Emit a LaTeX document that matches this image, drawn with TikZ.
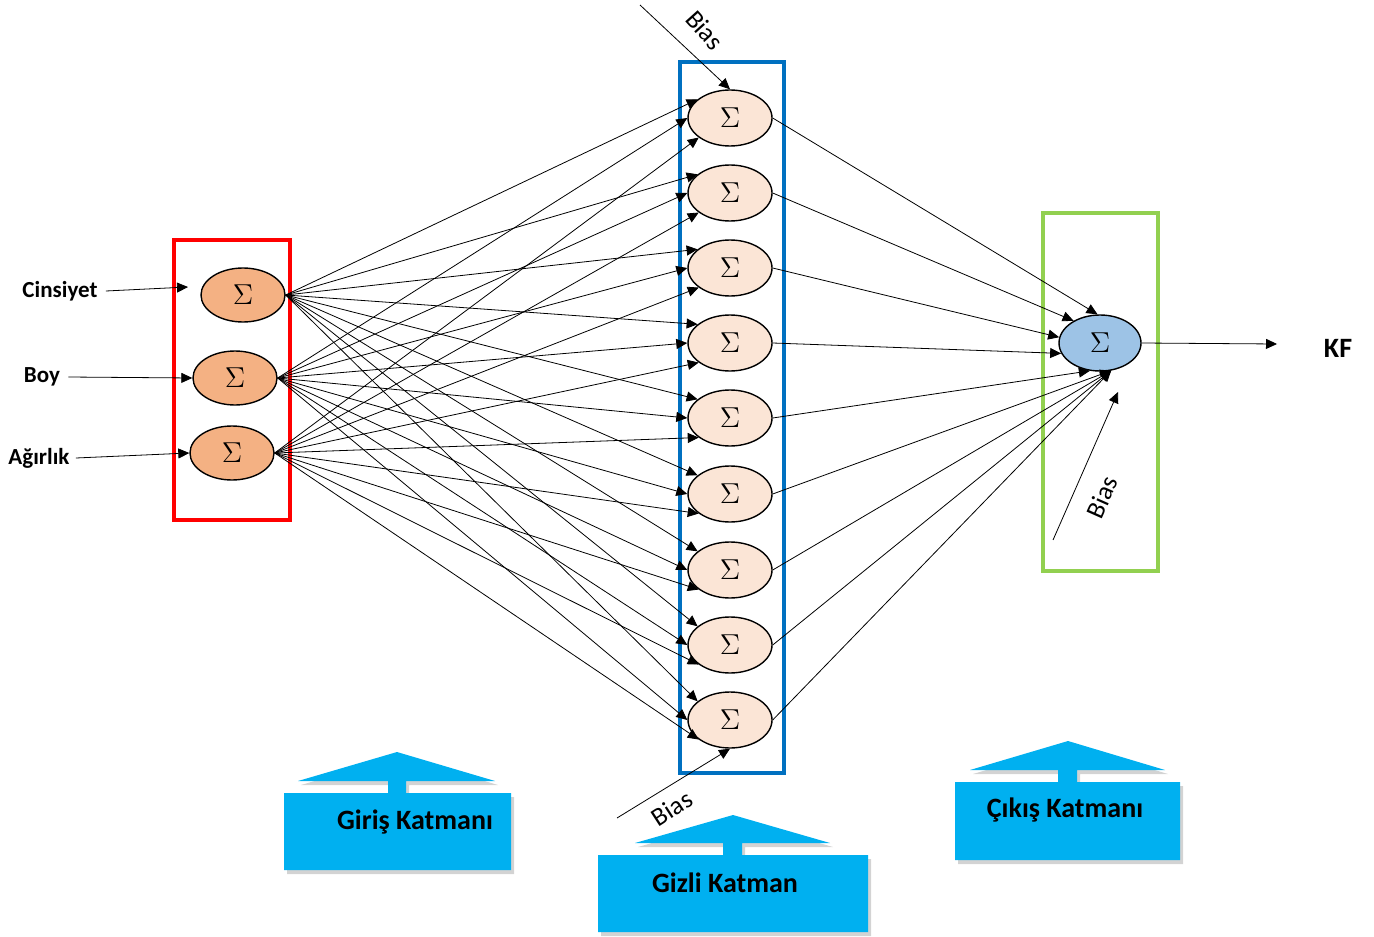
\documentclass[tikz,border=0pt]{standalone}
\usepackage{fontspec}
\setmainfont{Carlito}
\usetikzlibrary{arrows.meta,shapes.geometric,shadows}
\definecolor{inFill}{HTML}{F4B183}
\definecolor{hidFill}{HTML}{FBE5D6}
\definecolor{outFill}{HTML}{9DC3E6}
\definecolor{boxRed}{HTML}{FF0000}
\definecolor{boxBlue}{HTML}{0070C0}
\definecolor{boxGreen}{HTML}{92D050}
\definecolor{callFill}{HTML}{00B0F0}
\begin{document}
\begin{tikzpicture}[x=0.5pt,y=-0.5pt,
  conn/.style={-{Triangle[length=5.5pt,width=5pt]}, line width=0.4pt},
  neuron/.style={ellipse, draw, line width=0.7pt, minimum width=42pt, minimum height=28pt, inner sep=0pt, font=\Large},
  inneuron/.style={neuron, fill=inFill, minimum height=27pt},
  hidneuron/.style={neuron, fill=hidFill},
  outneuron/.style={neuron, fill=outFill, minimum width=41pt},
  layerbox/.style={line width=2pt},
  inlabel/.style={font=\bfseries\fontsize{11.5}{13}\selectfont, inner sep=0pt},
  biaslabel/.style={font=\fontsize{13}{15}\selectfont, inner sep=0pt},
  callout/.style={fill=callFill, drop shadow={opacity=0.35, shadow xshift=1.5pt, shadow yshift=-2pt}},
  calltext/.style={font=\bfseries\fontsize{14}{16}\selectfont, inner sep=0pt}
]
\useasboundingbox (0,0) rectangle (1374,936);

% layer boxes
\draw[layerbox, boxRed] (174,240) rectangle (290,520);
\draw[layerbox, boxBlue] (680,62) rectangle (784,773);
\draw[layerbox, boxGreen] (1043,213) rectangle (1158,571);

% input neurons
\node[inneuron] (i1) at (243,295) {$\Sigma$};
\node[inneuron] (i2) at (235,378) {$\Sigma$};
\node[inneuron] (i3) at (232,453) {$\Sigma$};

% hidden neurons
\foreach \k/\y in {1/118,2/193,3/268,4/343,5/418,6/494,7/570,8/645,9/720}
  \node[hidneuron] (h\k) at (730,\y) {$\Sigma$};

% output neuron
\node[outneuron] (o) at (1100,343) {$\Sigma$};

% input labels and arrows
\node[inlabel] (l1) at (60,291) {Cinsiyet};
\node[inlabel] (l2) at (42,377) {Boy};
\node[inlabel] (l3) at (39,458) {Ağırlık};
\coordinate (t1) at (188,287);
\draw[conn] ([xshift=4pt]l1.east) -- (t1);
\draw[conn] ([xshift=4pt]l2.east) -- (i2.west);
\draw[conn] ([xshift=3pt]l3.east) -- (i3.west);

% input -> hidden
\foreach \k in {1,...,9} {
  \draw[conn] (i1.east) -- (h\k.150);
  \draw[conn] (i2.east) -- (h\k.west);
  \draw[conn] (i3.east) -- (h\k.212);
}

% hidden -> output
\draw[conn] (h1.east) -- (o.95);
\draw[conn] (h2.east) -- (o.140);
\draw[conn] (h3.east) -- (o.172);
\draw[conn] (h4.east) -- (o.195);
\draw[conn] (h5.east) -- (o.250);
\foreach \k in {6,...,9}
  \draw[conn] (h\k.east) -- (o.292);

% output arrow
\coordinate (kfend) at (1277,344);
\draw[conn] (o.east) -- (kfend);
\node[font=\bfseries\fontsize{14}{16}\selectfont, inner sep=0pt] (kf) at (1338,348) {KF};

% bias inputs
\coordinate (bt) at (640,5);
\draw[conn] (bt) -- (h1.north);
\node[biaslabel, rotate=-48] (btl) at (705,30) {Bias};
\coordinate (bb) at (617,818);
\draw[conn] (bb) -- (h9.south);
\node[biaslabel, rotate=33] (bbl) at (672,808) {Bias};
\coordinate (bo) at (1053,540);
\coordinate (boend) at (1118,392);
\draw[conn] (bo) -- (boend);
\node[biaslabel, rotate=66] (bol) at (1102,497) {Bias};

% callouts
\fill[callout] (284,793) -- (388,793) -- (388,781) -- (298,781) -- (397,752) -- (495,781) -- (406,781) -- (406,793) -- (511,793) -- (511,870) -- (284,870) -- cycle;
\node[calltext] (c1) at (415,822) {Giriş Katmanı};

\fill[callout] (598,855) -- (723,855) -- (723,843) -- (635,843) -- (733,815) -- (830,843) -- (742,843) -- (742,855) -- (868,855) -- (868,932) -- (598,932) -- cycle;
\node[calltext] (c2) at (725,883) {Gizli Katman};

\fill[callout] (955,782) -- (1058,782) -- (1058,770) -- (970,770) -- (1068,741) -- (1165,770) -- (1077,770) -- (1077,782) -- (1180,782) -- (1180,860) -- (955,860) -- cycle;
\node[calltext] (c3) at (1065,810) {Çıkış Katmanı};
\end{tikzpicture}
\end{document}
